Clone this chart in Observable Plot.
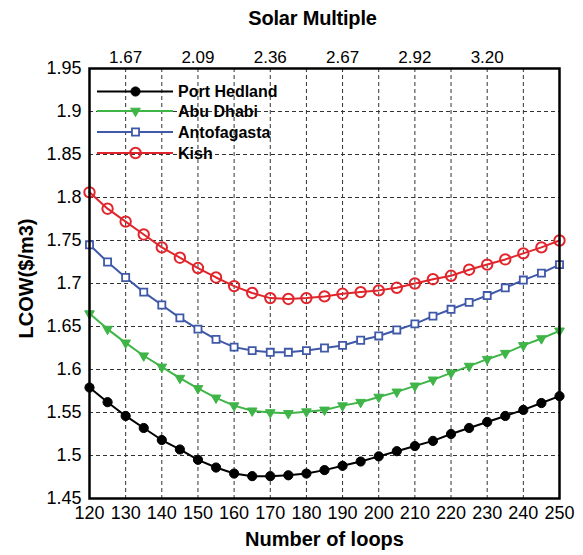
<!DOCTYPE html>
<html>
<head>
<meta charset="utf-8">
<script src="https://cdn.jsdelivr.net/npm/d3@7"></script>
<script src="https://cdn.jsdelivr.net/npm/@observablehq/plot@0.6"></script>
<style>
  html, body { margin: 0; padding: 0; background: #fff; }
  #chart svg { font-family: "Liberation Sans", Arial, sans-serif; }
</style>
</head>
<body>
<div id="chart"></div>
<script>
const loops = [120,125,130,135,140,145,150,155,160,165,170,175,180,185,190,195,200,205,210,215,220,225,230,235,240,245,250];
const portHedland = [1.579,1.562,1.546,1.532,1.518,1.507,1.495,1.486,1.479,1.476,1.476,1.477,1.479,1.483,1.488,1.493,1.499,1.505,1.511,1.517,1.525,1.532,1.539,1.546,1.553,1.561,1.569];
const abuDhabi = [1.665,1.647,1.631,1.616,1.603,1.590,1.578,1.567,1.558,1.552,1.550,1.549,1.551,1.553,1.558,1.562,1.568,1.574,1.581,1.588,1.596,1.604,1.612,1.619,1.628,1.636,1.645];
const antofagasta = [1.745,1.725,1.707,1.690,1.675,1.660,1.647,1.635,1.626,1.622,1.620,1.620,1.622,1.625,1.628,1.634,1.639,1.646,1.653,1.662,1.670,1.678,1.686,1.695,1.704,1.712,1.722];
const kish = [1.806,1.787,1.772,1.757,1.742,1.730,1.718,1.707,1.697,1.689,1.683,1.682,1.683,1.685,1.688,1.690,1.692,1.695,1.700,1.705,1.709,1.716,1.722,1.728,1.735,1.742,1.750];

const seriesNames = ["Port Hedland", "Abu Dhabi", "Antofagasta", "Kish"];
const seriesValues = [portHedland, abuDhabi, antofagasta, kish];

const xTicks = [120,130,140,150,160,170,180,190,200,210,220,230,240,250];
const yTicks = [1.45,1.5,1.55,1.6,1.65,1.7,1.75,1.8,1.85,1.9,1.95];
const solarTicks = [130,150,170,190,210,230];
const solarLabels = ["1.67","2.09","2.36","2.67","2.92","3.20"];

const styles = {
  "Port Hedland": {color: "#000000", symbol: "circle", fill: "#000000", r: 4.6, rotate: 0, sw: 1},
  "Abu Dhabi":   {color: "#3fb548", symbol: "triangle", fill: "#3fb548", r: 3.6, rotate: 180, sw: 1},
  "Antofagasta": {color: "#3f58a8", symbol: "square", fill: "#ffffff", r: 4.0, rotate: 0, sw: 1.8},
  "Kish":        {color: "#e0262c", symbol: "circle", fill: "none", r: 5.2, rotate: 0, sw: 2}
};

const table = seriesNames.flatMap((name, s) =>
  loops.map((l, i) => ({loops: l, value: seriesValues[s][i], series: name}))
);

const marks = [
  Plot.gridX(xTicks, {stroke: "#333", strokeOpacity: 1, strokeDasharray: "4,3", strokeWidth: 1}),
  Plot.gridY(yTicks, {stroke: "#333", strokeOpacity: 1, strokeDasharray: "4,3", strokeWidth: 1}),
  Plot.axisX(xTicks, {anchor: "bottom", tickSize: 0, tickPadding: 8, fontSize: 18,
    label: "Number of loops", labelAnchor: "center", labelArrow: "none", labelOffset: 47}),
  Plot.axisX(solarTicks, {anchor: "top", tickSize: 0, tickPadding: 6, fontSize: 17,
    tickFormat: d => solarLabels[solarTicks.indexOf(d)],
    label: "Solar Multiple", labelAnchor: "center", labelArrow: "none", labelOffset: 58}),
  Plot.axisY(yTicks, {anchor: "left", tickSize: 0, tickPadding: 8, fontSize: 18,
    tickFormat: d => String(+d.toFixed(2)),
    label: "LCOW($/m3)", labelAnchor: "center", labelArrow: "none", labelOffset: 71})
];

for (const name of seriesNames) {
  const st = styles[name];
  const data = table.filter(d => d.series === name);
  marks.push(Plot.line(data, {x: "loops", y: "value", stroke: st.color, strokeWidth: 2}));
  marks.push(Plot.dot(data, {x: "loops", y: "value", symbol: st.symbol, r: st.r, rotate: st.rotate,
    fill: st.fill, stroke: st.color, strokeWidth: st.sw}));
}
marks.push(Plot.frame({stroke: "#000", strokeWidth: 2.5}));

const plot = Plot.plot({
  width: 583,
  height: 555,
  marginLeft: 89,
  marginRight: 24,
  marginTop: 68,
  marginBottom: 57,
  style: {fontFamily: "Liberation Sans, Arial, sans-serif", color: "#000", background: "#fff"},
  x: {domain: [120, 250]},
  y: {domain: [1.45, 1.95]},
  marks
});

document.getElementById("chart").appendChild(plot);

const svg = d3.select(plot);
svg.selectAll('g[aria-label="x-axis label"] text, g[aria-label="y-axis label"] text')
  .style("font-weight", "bold").style("font-size", "20px");
// Title above the top axis sits slightly left of centre in the reference
svg.selectAll('g[aria-label="x-axis label"] text')
  .filter(function() { return this.textContent === "Solar Multiple"; })
  .attr("dx", -12).style("letter-spacing", "-0.2px");
svg.selectAll('g[aria-label="y-axis label"] text').attr("dx", 5);

// Legend
const legend = svg.append("g").attr("class", "legend").attr("text-anchor", "start");
const rowY = [91.5, 111, 132, 153];
const symMap = {circle: d3.symbolCircle, triangle: d3.symbolTriangle, square: d3.symbolSquare};
seriesNames.forEach((name, i) => {
  const st = styles[name];
  const g = legend.append("g").attr("transform", `translate(0,${rowY[i]})`);
  g.append("line").attr("x1", 97).attr("x2", 173).attr("y1", 0).attr("y2", 0)
    .attr("stroke", st.color).attr("stroke-width", 2);
  g.append("path")
    .attr("d", d3.symbol(symMap[st.symbol], Math.PI * st.r * st.r)())
    .attr("transform", `translate(135.5,0) rotate(${st.rotate})`)
    .attr("fill", st.fill).attr("stroke", st.color).attr("stroke-width", st.sw);
  g.append("text").attr("x", 178).attr("y", 0).attr("dy", "0.36em")
    .attr("text-anchor", "start")
    .attr("font-size", 16).attr("font-weight", "bold").attr("fill", "#000")
    .text(name);
});
</script>
</body>
</html>
